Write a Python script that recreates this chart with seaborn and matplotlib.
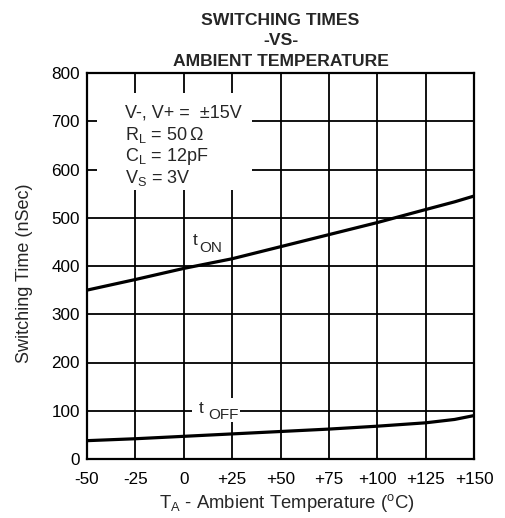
import pandas as pd
import matplotlib.pyplot as plt
import seaborn as sns
from matplotlib.patches import Rectangle

temps = [-50, -25, 0, 25, 50, 75, 100, 125, 140, 150]
t_on = [350, 372, 395, 415, 440, 465, 490, 517, 533, 545]
t_off = [38, 42, 47, 52, 57, 62, 68, 75, 82, 90]
x_ticks = [-50, -25, 0, 25, 50, 75, 100, 125, 150]
x_tick_labels = ["-50", "-25", "0", "+25", "+50", "+75", "+100", "+125", "+150"]
y_ticks = [0, 100, 200, 300, 400, 500, 600, 700, 800]

df = pd.DataFrame({"temp": temps, "ton": t_on, "toff": t_off})

sns.set_style("white")
plt.rcParams["font.family"] = ["Liberation Sans", "DejaVu Sans"]
plt.rcParams["mathtext.fontset"] = "custom"
plt.rcParams["mathtext.rm"] = "Liberation Sans"
plt.rcParams["mathtext.it"] = "Liberation Sans"

fig = plt.figure(figsize=(5.06, 5.18), dpi=100)
ax = fig.add_axes([87 / 506, 1 - 459 / 518, 387 / 506, 386 / 518])

sns.lineplot(data=df, x="temp", y="ton", color="black", lw=2.3, ax=ax, zorder=3)
sns.lineplot(data=df, x="temp", y="toff", color="black", lw=2.3, ax=ax, zorder=3)

ax.set_xlim(-50, 150)
ax.set_ylim(0, 800)
ax.set_xticks(x_ticks)
ax.set_xticklabels(x_tick_labels)
ax.set_yticks(y_ticks)
ax.tick_params(labelsize=12.3, length=0, colors="black")
ax.tick_params(axis="x", pad=9.5)
ax.tick_params(axis="y", pad=5)
ax.grid(True, color="black", lw=1.3)
ax.set_axisbelow(True)
for s in ax.spines.values():
    s.set_color("black")
    s.set_linewidth(1.6)

ax.set_xlabel("T$_\\mathrm{A}$ - Ambient Temperature ($^\\mathrm{o}$C)", fontsize=13.3)
ax.xaxis.set_label_coords(0.515, -0.086)
ax.set_ylabel("Switching Time (nSec)", fontsize=13)
ax.yaxis.set_label_coords(-0.14, 0.482)
ax.set_title("SWITCHING TIMES\n-VS-\nAMBIENT TEMPERATURE", fontsize=12.6,
             fontweight="bold", linespacing=1.47, pad=5)

# white box behind conditions text
ax.add_patch(Rectangle((0.026, 0.697), 0.40, 0.25, transform=ax.transAxes,
                       facecolor="white", edgecolor="none", zorder=1.5))
cond = ["V-, V+ =  \u00b115V", "R$_\\mathrm{L}$ = 50\u2009\u03a9",
        "C$_\\mathrm{L}$ = 12pF", "V$_\\mathrm{S}$ = 3V"]
for i, line in enumerate(cond):
    ax.text(-30.5, 717 - i * 45, line, fontsize=13, va="center", ha="left", zorder=4)

# curve labels: main letter plus lowered subscript
ax.text(4.8, 443, "t", fontsize=12.5, va="baseline", ha="left", zorder=4)
ax.text(8.0, 429, "ON", fontsize=11, va="baseline", ha="left", zorder=4)

ax.add_patch(Rectangle((4.3, 77), 24.8, 50, facecolor="white", edgecolor="none", zorder=1.5))
ax.text(7.5, 96, "t", fontsize=12.5, va="baseline", ha="left", zorder=4)
ax.text(12.5, 83, "OFF", fontsize=11, va="baseline", ha="left", zorder=4)

plt.savefig("out.png", dpi=100)
